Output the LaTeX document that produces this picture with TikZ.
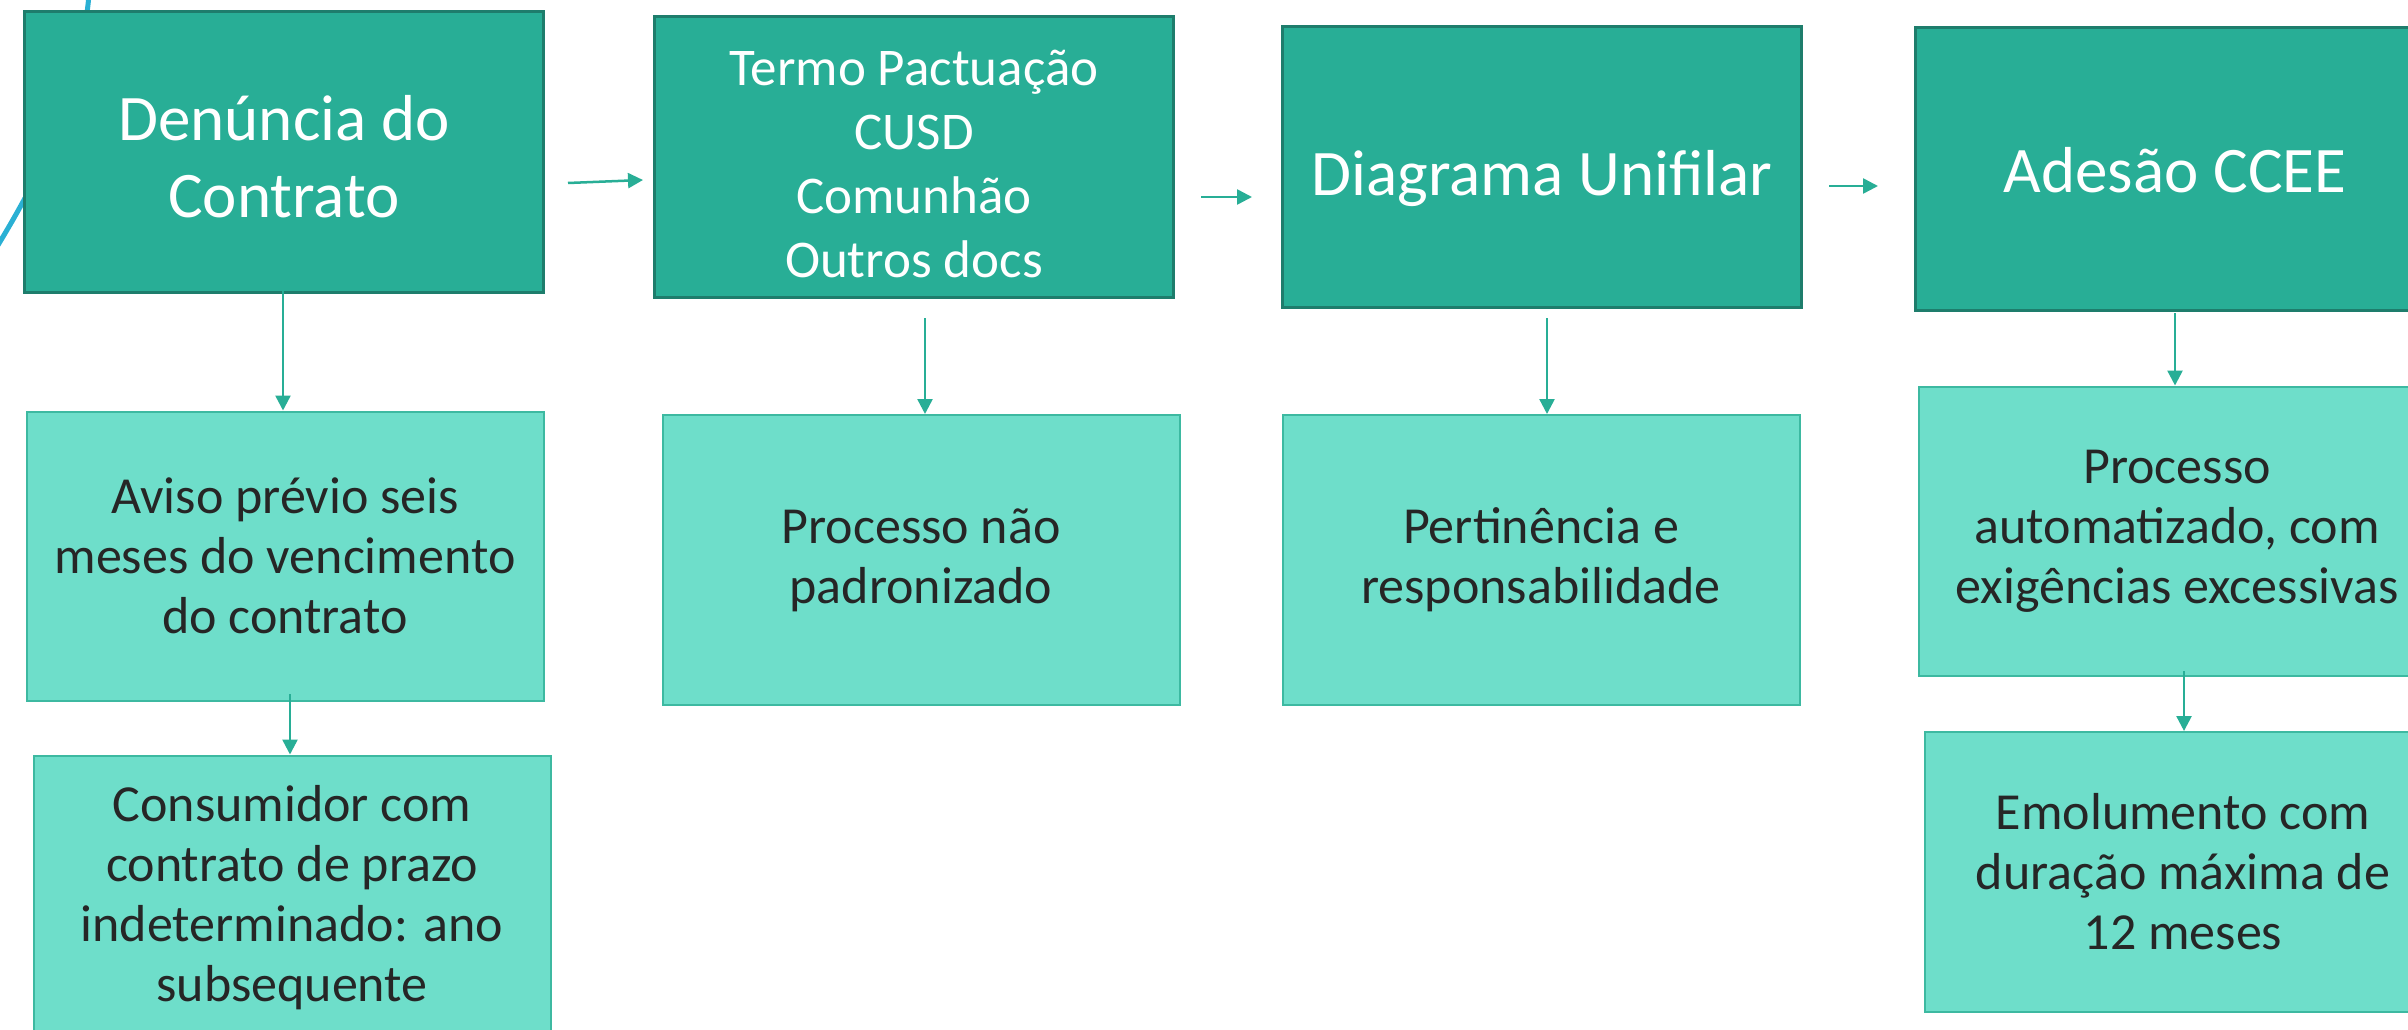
\documentclass[tikz,border=0pt]{standalone}
\usepackage{fontspec}
\setmainfont{Carlito}
\usetikzlibrary{arrows.meta}
\definecolor{darkfill}{HTML}{28AE96}
\definecolor{darkline}{HTML}{1E7D6C}
\definecolor{lightfill}{HTML}{6EDECA}
\definecolor{lightline}{HTML}{3DB9A1}
\definecolor{arrowc}{HTML}{28AE96}
\definecolor{curvec}{HTML}{2AB0D4}
\definecolor{txt}{HTML}{262626}
\begin{document}
\begin{tikzpicture}[x=1pt,y=-1pt,
  darkbox/.style={draw=darkline, line width=3pt, fill=darkfill, text=white,
    minimum width=519pt, minimum height=280pt, align=center, inner sep=0pt,
    font=\fontsize{65}{77}\selectfont},
  lightbox/.style={draw=lightline, line width=2pt, fill=lightfill, text=txt,
    minimum width=517pt, minimum height=289pt, align=center, inner sep=0pt,
    font=\fontsize{52}{60}\selectfont},
  arr/.style={draw=arrowc, line width=2.5pt, -{Triangle[length=15pt,width=15pt]}}]
\useasboundingbox (0,0) rectangle (2408,1030);
\clip (0,0) rectangle (2408,1030);
\fill[white] (0,0) rectangle (2408,1030);
\draw[curvec, line width=5pt] (89,-5) .. controls (80,90) and (50,160) .. (-5,250);

\node[darkbox, text height=131pt, text depth=0pt] (b1) at (284,152) {Denúncia do\\Contrato};
\node[darkbox, font=\fontsize{53}{64}\selectfont, text height=241pt, text depth=0pt] (b2) at (914,157) {Termo Pactuação\\CUSD\\Comunhão\\Outros docs};
\node[darkbox, text height=57pt, text depth=0pt] (b3) at (1542,167) {Diagrama Unifilar};
\node[darkbox, minimum height=283pt, text height=46pt, text depth=0pt] (b4) at (2175,169) {Adesão CCEE};

\node[lightbox] (l1) at (285,556) {Aviso prévio seis\\meses do vencimento\\do contrato};
\node[lightbox, minimum height=285pt] (l1b) at (292,898) {Consumidor com\\contrato de prazo\\indeterminado: ano\\subsequente};
\node[lightbox, minimum height=290pt] (l2) at (921,560) {Processo não\\padronizado};
\node[lightbox, minimum height=290pt] (l3) at (1541,560) {Pertinência e\\responsabilidade};
\node[lightbox] (l4) at (2177,531) {Processo\\automatizado, com\\exigências excessivas};
\node[lightbox, minimum height=280pt] (l4b) at (2183,872) {Emolumento com\\duração máxima de\\12 meses};

\coordinate (h1s) at (568,183);
\coordinate (h1e) at (643,180);
\coordinate (h2s) at (1201,197);
\coordinate (h2e) at (1252,197);
\coordinate (h3s) at (1829,186);
\coordinate (h3e) at (1878,186);
\draw[arr] (h1s) -- (h1e);
\draw[arr] (h2s) -- (h2e);
\draw[arr] (h3s) -- (h3e);

\coordinate (v1s) at (283,291);
\coordinate (v2s) at (925,318);
\coordinate (v3s) at (1547,318);
\coordinate (v4s) at (2175,313);
\coordinate (v1bs) at (290,694);
\coordinate (v4bs) at (2184,671);
\draw[arr] (v1s) -- (v1s |- l1.north);
\draw[arr] (v1bs) -- (v1bs |- l1b.north);
\draw[arr] (v2s) -- (v2s |- l2.north);
\draw[arr] (v3s) -- (v3s |- l3.north);
\draw[arr] (v4s) -- (v4s |- l4.north);
\draw[arr] (v4bs) -- (v4bs |- l4b.north);
\end{tikzpicture}
\end{document}
